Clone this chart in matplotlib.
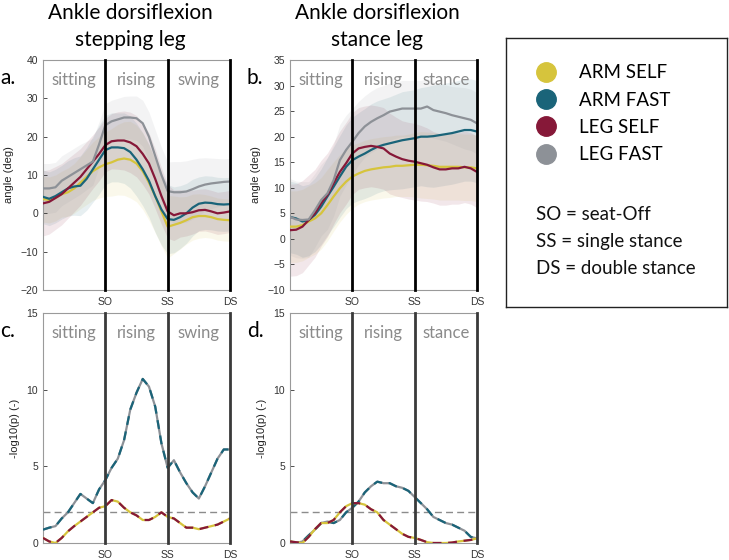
"""Ankle dorsiflexion during sit-to-walk: mean angle curves (a, b) and SPM -log10(p) curves (c, d)."""
import matplotlib.pyplot as plt
from matplotlib.lines import Line2D

# time normalised per phase: sitting 0-100, rising 100-200, swing/stance 200-300
t = list(range(0, 301, 10))
events = [100, 200, 300]
event_labels = ["SO", "SS", "DS"]
groups = ["ARM SELF", "ARM FAST", "LEG SELF", "LEG FAST"]
colors = ["#D6C43C", "#1A6479", "#861838", "#8D9197"]

# a. stepping leg, mean angle (deg)
a_arm_self = [3.7, 3.5, 4, 5, 5.5, 6.5, 8, 9.5, 11, 12, 12.8, 13.3, 14, 14.3, 14, 13, 11, 8, 4.5, 0.5,
              -3.5, -3, -2.5, -1.8, -1, -0.7, -0.7, -1, -1.5, -1.7, -1.8]
a_arm_fast = [4.3, 3.8, 4.5, 5.5, 6.5, 7, 7.2, 9, 11.5, 14, 16.5, 17.2, 17.2, 17, 16, 14, 11.5, 8.5, 4.5, 1,
              -1.5, -1.7, -1, 0, 1.5, 2.5, 2.8, 2.7, 2.4, 2.3, 2.4]
a_leg_self = [2.6, 3, 4, 5, 6.5, 8, 9.5, 11.5, 13.5, 15.5, 17.8, 18.8, 19, 19, 18.5, 17.5, 15.5, 13, 9, 4.5,
              0.5, -0.5, 0, 0, 0.3, 0.8, 0.9, 0.5, 0, 0.2, 0.5]
a_leg_fast = [6.5, 6.5, 6.8, 8.5, 9.5, 10.5, 11.5, 12.5, 13.5, 18, 23, 24, 24.5, 25, 25, 24.8, 23.5, 20, 15, 10,
              5.8, 5.5, 5.5, 5.7, 6.3, 7, 7.5, 7.8, 8, 8.2, 8.3]
# a. standard deviations
a_sd_arm_self = [6, 6, 6, 6, 6.3, 6.5, 6.8, 7.2, 7.6, 8, 8.4, 8.8, 9.2, 9.6, 10, 10, 10, 9.8, 9.5, 9,
                 8.2, 7.5, 6.8, 6.2, 6, 5.8, 5.6, 5.5, 5.5, 5.5, 5.5]
a_sd_arm_fast = [7, 7, 7, 7, 7.2, 7.5, 7.8, 8.2, 8.6, 9, 9, 9, 9, 9.2, 9.4, 9.5, 9.5, 9.5, 9.5, 9.3,
                 9, 8.6, 8.2, 7.8, 7.4, 7, 7, 7, 7, 7, 7]
a_sd_leg_self = [8.5, 8.4, 8.2, 8, 7.8, 7.6, 7.4, 7.2, 7, 7, 7, 7.2, 7.5, 7.7, 7.9, 8, 8, 8, 7.8, 7.4,
                 7, 6.6, 6.2, 5.9, 5.7, 5.5, 5.5, 5.5, 5.5, 5.5, 5.5]
a_sd_leg_fast = [6.5, 6.5, 6.5, 6.5, 6.5, 6.5, 6.5, 6.3, 6.1, 5.9, 5.6, 5.5, 5.5, 5.5, 5.6, 5.8, 6, 6.4, 6.8, 7.2,
                 7.6, 8, 8, 8, 7.8, 7.4, 7, 6.6, 6.3, 6, 6]

# b. stance leg, mean angle (deg)
b_arm_self = [2.4, 2.4, 2.7, 3.4, 4, 5, 6.6, 8.3, 9.9, 11.2, 12.2, 12.8, 13.3, 13.6, 13.8, 14, 14.1, 14.3, 14.3, 14.4,
              14.5, 14.5, 14.4, 14.3, 14.1, 14.1, 14.1, 14.1, 14, 14, 13.8]
b_arm_fast = [4.3, 4, 3.4, 3.7, 4.7, 6.3, 8.3, 10.2, 12.2, 14.1, 15.4, 16.1, 16.7, 17.4, 18, 18.4, 18.7, 19, 19.3, 19.5,
              19.7, 20, 20, 20.1, 20.3, 20.5, 20.7, 21, 21.3, 21.3, 21]
b_leg_self = [1.7, 1.8, 2.4, 3.7, 5, 7, 8.6, 10.9, 13.1, 14.8, 16.7, 17.7, 18, 18.2, 18, 17.7, 16.7, 16.1, 15.6, 15.3,
              15.1, 14.8, 14.5, 14, 13.6, 13.6, 13.8, 13.8, 14.1, 13.8, 13.1]
b_leg_fast = [4.3, 3.8, 3.7, 3.8, 5.6, 7.6, 8.9, 11.5, 15.4, 17.4, 19, 20.7, 22, 22.9, 23.6, 24.2, 24.9, 25.2, 25.5, 25.5,
              25.5, 25.5, 25.9, 25.2, 24.9, 24.6, 24.2, 23.9, 23.6, 23.3, 22.6]
# b. standard deviations
b_sd_arm_self = [7, 7, 7, 7, 7, 7, 7, 6.8, 6.6, 6.4, 6.2, 6, 6, 6, 6, 6, 6, 6, 6, 6.1,
                 6.3, 6.5, 6.5, 6.5, 6.5, 6.5, 6.5, 6.5, 6.5, 6.5, 6.5]
b_sd_arm_fast = [7, 7, 7, 7, 7.2, 7.4, 7.6, 7.8, 8, 8.2, 8.4, 8.6, 8.8, 9, 9, 9, 9.1, 9.3, 9.5, 9.5,
                 9.5, 9.6, 9.8, 10, 10, 10, 10, 10, 10, 10, 10]
b_sd_leg_self = [9, 9, 9, 8.8, 8.6, 8.4, 8.2, 8, 8, 8, 8, 8, 8, 8, 8, 8, 7.9, 7.7, 7.5, 7.5,
                 7.5, 7.4, 7.2, 7, 7, 7, 7, 7, 7, 7, 7]
b_sd_leg_fast = [7.5, 7.5, 7.5, 7.4, 7.2, 7, 7, 7, 7, 6.8, 6.5, 6.2, 6, 6, 6, 5.8, 5.6, 5.5, 5.5, 5.5,
                 5.5, 5.5, 5.5, 5.5, 5.5, 5.5, 5.6, 5.8, 6, 6, 6]

# c./d. -log10(p): SELF comparison and FAST comparison
c_self = [0.33, 0.1, 0, 0.33, 0.76, 1.1, 1.4, 1.7, 2, 2.3, 2.4, 2.8, 2.7, 2.3, 2, 1.8, 1.5, 1.5, 1.7, 2,
          1.7, 1.6, 1.3, 1, 1, 0.9, 1, 1.1, 1.2, 1.4, 1.6]
c_fast = [0.87, 1, 1.1, 1.6, 2, 2.6, 3.2, 2.9, 2.6, 3.5, 4.1, 4.9, 5.5, 6.7, 8.7, 9.8, 10.7, 10.2, 8.9, 6.5,
          4.9, 5.4, 4.6, 3.9, 3.3, 2.9, 3.7, 4.6, 5.5, 6.1, 6.1]
d_self = [0.1, 0.05, 0, 0.4, 0.9, 1.3, 1.3, 1.5, 2, 2.4, 2.6, 2.6, 2.5, 2.2, 2, 1.5, 1.2, 0.9, 0.6, 0.4,
          0.33, 0.2, 0.05, 0, 0, 0, 0.03, 0.1, 0.15, 0.2, 0.3]
d_fast = [0.1, 0, 0.1, 0.5, 0.87, 1.3, 1.4, 1.3, 1.5, 2, 2.3, 2.7, 3.3, 3.7, 4, 3.9, 3.9, 3.7, 3.6, 3.4,
          3, 2.6, 2.2, 1.7, 1.5, 1.3, 1.2, 1, 0.8, 0.4, 0.3]
threshold = 2

plt.rcParams["font.family"] = ["Liberation Sans", "DejaVu Sans"]
TXT = ["Lato", "DejaVu Sans"]
PHASE_GREY = "#8a8a8a"

fig = plt.figure(figsize=(7.29, 5.6), dpi=100)
W, H = 729, 560


def px_axes(x0, y0, x1, y1):
    return fig.add_axes([x0 / W, 1 - y1 / H, (x1 - x0) / W, (y1 - y0) / H])


def style(ax, ylim, yticks, ylabel, phases, letter, line_col):
    ax.set_xlim(0, 300)
    ax.set_ylim(*ylim)
    ax.set_yticks(yticks)
    ax.set_xticks(events)
    ax.set_xticklabels(event_labels)
    ax.tick_params(labelsize=7.5, colors="#333333", direction="in", length=3, width=0.6)
    ax.tick_params(axis="x", length=0, pad=5)
    for s in ax.spines.values():
        s.set_color("#9a9a9a")
        s.set_linewidth(0.8)
    ax.set_ylabel(ylabel, fontsize=8, color="#222222", labelpad=5)
    for e in events:
        ax.axvline(e, color=line_col, lw=2, clip_on=False, zorder=5)
    for i, name in enumerate(phases):
        ax.text(50 + 100 * i, 0.913, name, transform=ax.get_xaxis_transform(), ha="center", va="center",
                fontsize=12, color=PHASE_GREY, family=TXT, zorder=6)
    ax.text(-0.23, 0.92, letter, transform=ax.transAxes, fontsize=15, family=TXT, ha="left", va="center")


ax_a = px_axes(43, 60, 230, 290)
ax_b = px_axes(290, 60, 477, 290)
ax_c = px_axes(43, 313, 230, 543)
ax_d = px_axes(290, 313, 477, 543)

mean_sets = [
    (ax_a, [a_arm_self, a_arm_fast, a_leg_self, a_leg_fast], [a_sd_arm_self, a_sd_arm_fast, a_sd_leg_self, a_sd_leg_fast]),
    (ax_b, [b_arm_self, b_arm_fast, b_leg_self, b_leg_fast], [b_sd_arm_self, b_sd_arm_fast, b_sd_leg_self, b_sd_leg_fast]),
]
for ax, means, sds in mean_sets:
    for m, sd, c in zip(means, sds, colors):
        lo = [v - s for v, s in zip(m, sd)]
        hi = [v + s for v, s in zip(m, sd)]
        ax.fill_between(t, lo, hi, color=c, alpha=0.1, lw=0)
    for m, c in zip(means, colors):
        ax.plot(t, m, color=c, lw=1.6, zorder=3)

for ax, self_p, fast_p in [(ax_c, c_self, c_fast), (ax_d, d_self, d_fast)]:
    ax.axhline(threshold, color="#8c8c8c", ls="--", lw=1, dashes=(5, 3), zorder=2)
    ax.plot(t, fast_p, color=colors[3], lw=1.6, zorder=3)
    ax.plot(t, fast_p, color=colors[1], lw=1.6, dashes=(4, 3), zorder=3)
    ax.plot(t, self_p, color=colors[0], lw=1.6, zorder=3)
    ax.plot(t, self_p, color=colors[2], lw=1.6, dashes=(4, 3), zorder=3)

style(ax_a, (-20, 40), range(-20, 41, 10), "angle (deg)", ["sitting", "rising", "swing"], "a.", "black")
style(ax_b, (-10, 35), range(-10, 36, 5), "angle (deg)", ["sitting", "rising", "stance"], "b.", "black")
style(ax_c, (0, 15), range(0, 16, 5), "-log10(p) (-)", ["sitting", "rising", "swing"], "c.", "#3a3a3a")
style(ax_d, (0, 15), range(0, 16, 5), "-log10(p) (-)", ["sitting", "rising", "stance"], "d.", "#3a3a3a")

fig.text(130 / W, 1 - 3 / H, "Ankle dorsiflexion\nstepping leg", ha="center", va="top", fontsize=15,
         family=TXT, linespacing=1.45)
fig.text(377 / W, 1 - 3 / H, "Ankle dorsiflexion\nstance leg", ha="center", va="top", fontsize=15,
         family=TXT, linespacing=1.45)

# legend box
leg = px_axes(506, 38, 727, 307)
leg.set_xticks([])
leg.set_yticks([])
for s in leg.spines.values():
    s.set_color("#222222")
    s.set_linewidth(1)
leg.set_xlim(506, 727)
leg.set_ylim(307, 38)
handles = [Line2D([], [], marker="o", ls="", ms=14, color=c) for c in colors]
leg.legend(handles, groups, loc="upper left", bbox_to_anchor=(0.06, 0.93), frameon=False,
           prop={"family": TXT, "size": 13.5}, labelspacing=0.55, handletextpad=0.8, borderaxespad=0)
for y, txt in zip([215, 242, 269], ["SO = seat-Off", "SS = single stance", "DS = double stance"]):
    leg.text(536, y, txt, fontsize=13.5, family=TXT, va="center", ha="left", color="#111111")

fig.savefig("out.png", dpi=100)
